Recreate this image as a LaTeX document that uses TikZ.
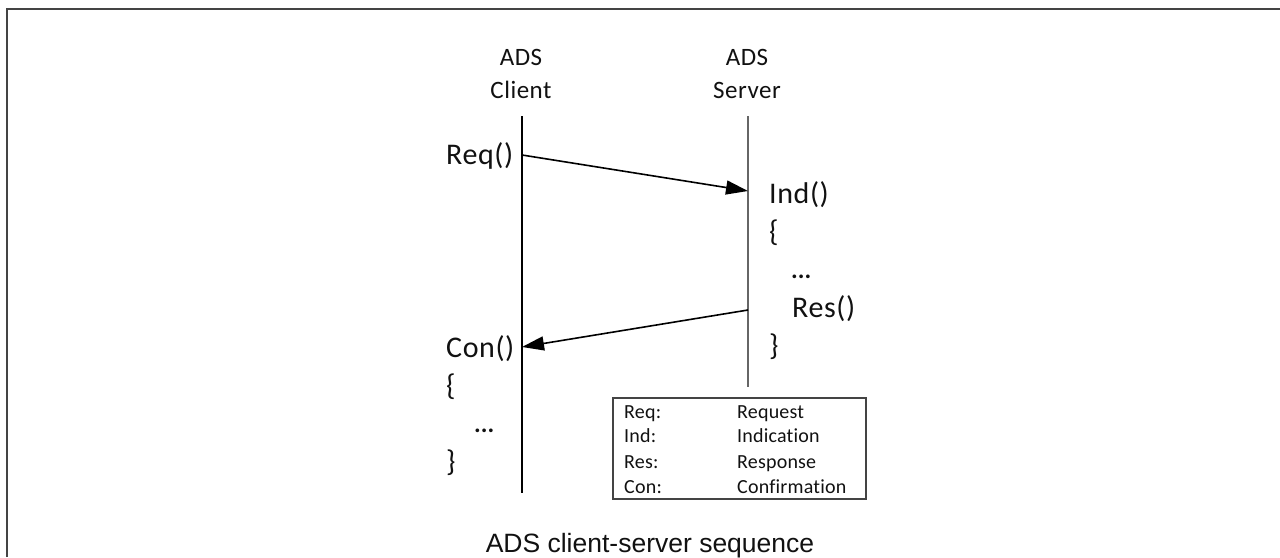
\documentclass[tikz,border=0pt]{standalone}
\usepackage{fontspec}
\setmainfont{Carlito}
\newfontfamily\capfont{Liberation Sans}
\newfontfamily\codefont[LetterSpace=2]{Carlito}
\newfontfamily\labfont[LetterSpace=2]{Carlito}
\newfontfamily\legfont[LetterSpace=1,Ligatures=NoCommon]{Carlito}
\newfontfamily\dotfont{Carlito}
\usetikzlibrary{arrows.meta}
\definecolor{txt}{HTML}{111111}
\definecolor{frame}{HTML}{444444}
\definecolor{srv}{HTML}{666666}
\tikzset{
  lab/.style={inner sep=0pt, anchor=base, text=txt, font=\labfont\fontsize{25}{28}\selectfont},
  code/.style={inner sep=0pt, anchor=base west, text=txt, font=\codefont\fontsize{30}{34}\selectfont},
  dots/.style={inner sep=0pt, anchor=base west, text=txt, font=\dotfont\bfseries\fontsize{25}{28}\selectfont},
  leg/.style={inner sep=0pt, anchor=base west, text=txt, font=\legfont\fontsize{20}{23}\selectfont},
  life/.style={line width=2pt},
  msg/.style={line width=1.6pt, -{Triangle[length=22pt,width=14pt]}},
}
\begin{document}
\begin{tikzpicture}[x=1pt,y=1pt]
\useasboundingbox (0,0) rectangle (1280,-557);
% frame (top and left edges only)
\draw[frame, line width=2pt] (7,-557) -- (7,-8.5) -- (1280,-8.5);
% headers
\node[lab] (h1) at (521,-65) {ADS};
\node[lab] (h2) at (521,-98) {Client};
\node[lab] (h3) at (747,-65) {ADS};
\node[lab] (h4) at (747,-98) {Server};
% lifelines
\coordinate (ctop) at (522,-116);
\coordinate (cbot) at (522,-493);
\coordinate (stop) at (748,-116);
\coordinate (sbot) at (748,-387);
\draw[life] (ctop) -- (cbot);
\draw[life, srv, line width=2.4pt] (stop) -- (sbot);
% message points
\coordinate (reqS) at (522,-155);
\coordinate (reqE) at (748,-191);
\coordinate (resS) at (748,-310);
\coordinate (resE) at (522,-347);
\draw[msg] (reqS) -- (reqE);
\draw[msg] (resS) -- (resE);
% client code
\node[code] (req) at (446,-164) {Req()};
\node[code] (con) at (446,-357) {Con()};
\node[code] (cb1) at (446,-395) {\{};
\node[dots] (cd) at (474,-432) {...};
\node[code] (cb2) at (446,-471) {\}};
% server code
\node[code] (ind) at (769,-203) {Ind()};
\node[code] (sb1) at (769,-241) {\{};
\node[dots] (sd) at (791,-278) {...};
\node[code] (res) at (792,-317) {Res()};
\node[code] (sb2) at (769,-355) {\}};
% legend
\node[draw=frame, line width=2pt, minimum width=253pt, minimum height=101pt, inner sep=0pt] (legend) at (739.5,-448.5) {};
\node[leg] (l1a) at (624,-418) {Req:};
\node[leg] (l1b) at (737,-418) {Request};
\node[leg] (l2a) at (624,-442) {Ind:};
\node[leg] (l2b) at (737,-442) {Indication};
\node[leg] (l3a) at (624,-468) {Res:};
\node[leg] (l3b) at (737,-468) {Response};
\node[leg] (l4a) at (624,-493) {Con:};
\node[leg] (l4b) at (737,-493) {Confirmation};
% caption
\node[inner sep=0pt, anchor=base, text=txt, font=\capfont\fontsize{26.5}{30}\selectfont] (cap) at (650,-552) {ADS client-server sequence};
\end{tikzpicture}
\end{document}
